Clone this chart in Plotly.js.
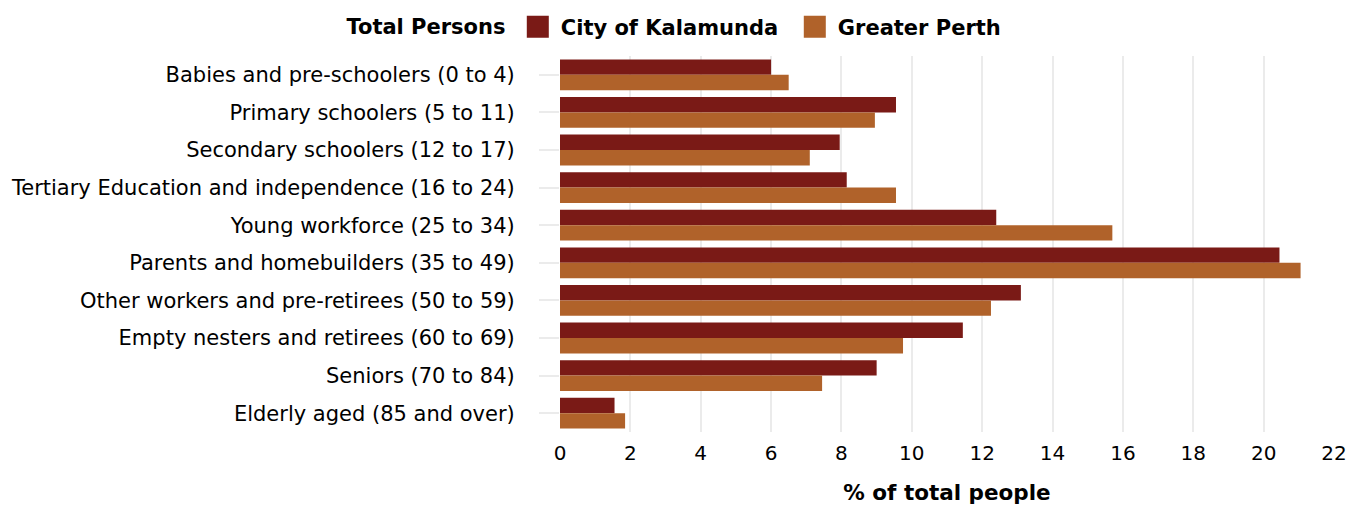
<!DOCTYPE html>
<html>
<head>
<meta charset="utf-8">
<script src="https://cdn.plot.ly/plotly-3.0.1.min.js"></script>
<style>html,body{margin:0;padding:0;background:#fff;}#chart{width:1360px;height:505px;}</style>
</head>
<body>
<div id="chart"></div>
<script>
var categories = [
  "Babies and pre-schoolers (0 to 4)",
  "Primary schoolers (5 to 11)",
  "Secondary schoolers (12 to 17)",
  "Tertiary Education and independence (16 to 24)",
  "Young workforce (25 to 34)",
  "Parents and homebuilders (35 to 49)",
  "Other workers and pre-retirees (50 to 59)",
  "Empty nesters and retirees (60 to 69)",
  "Seniors (70 to 84)",
  "Elderly aged (85 and over)"
];
var kalamunda = [6.0, 9.55, 7.95, 8.15, 12.4, 20.45, 13.1, 11.45, 9.0, 1.55];
var perth = [6.5, 8.95, 7.1, 9.55, 15.7, 21.05, 12.25, 9.75, 7.45, 1.85];
var seriesNames = ["City of Kalamunda", "Greater Perth"];
var legendTitle = "Total Persons";
var xTitle = "% of total people";
var xTicks = [0, 2, 4, 6, 8, 10, 12, 14, 16, 18, 20, 22];

var FONT = "'DejaVu Sans', sans-serif";

var traces = [
  {type: "bar", orientation: "h", name: seriesNames[0], y: categories, x: kalamunda,
   marker: {color: "#7A1A16"}, hoverinfo: "x+name"},
  {type: "bar", orientation: "h", name: seriesNames[1], y: categories, x: perth,
   marker: {color: "#B0622A"}, hoverinfo: "x+name"}
];

var layout = {
  width: 1360, height: 505,
  margin: {l: 560, r: 26, t: 56, b: 73, pad: 0},
  paper_bgcolor: "#fff", plot_bgcolor: "#fff",
  font: {family: FONT, size: 20, color: "#000"},
  barmode: "group", bargap: 0.18, bargroupgap: 0,
  showlegend: true,
  legend: {
    orientation: "h", xref: "container", yref: "container",
    x: 0.522, xanchor: "center", y: 0.987, yanchor: "top",
    entrywidth: 232, entrywidthmode: "pixels",
    title: {text: "<b>" + legendTitle + "</b>&nbsp;", font: {family: FONT, size: 21}},
    font: {family: FONT, size: 21, weight: "bold"},
    itemclick: false
  },
  xaxis: {
    range: [0, 22], tickvals: xTicks, ticktext: xTicks.map(String),
    showgrid: true, gridcolor: "#ebebeb", gridwidth: 2,
    zeroline: false, showline: false, ticks: "",
    tickfont: {family: FONT, size: 20},
    ticklabelstandoff: 7,
    title: {text: "<b>" + xTitle + "</b>", font: {family: FONT, size: 21.5}, standoff: 21}
  },
  yaxis: {
    type: "category", autorange: "reversed",
    showgrid: false, zeroline: false, showline: false,
    ticks: "outside", ticklen: 20, tickwidth: 2, tickcolor: "#ebebeb",
    ticklabelstandoff: 20,
    tickfont: {family: FONT, size: 21}
  }
};

Plotly.newPlot("chart", traces, layout, {displayModeBar: false, staticPlot: true}).then(function(gd){
  var pts = gd.querySelectorAll(".legend .legendpoints path");
  pts.forEach(function(p){ p.setAttribute("d", "M8,11H-14V-11H8Z"); });
});
</script>
</body>
</html>
